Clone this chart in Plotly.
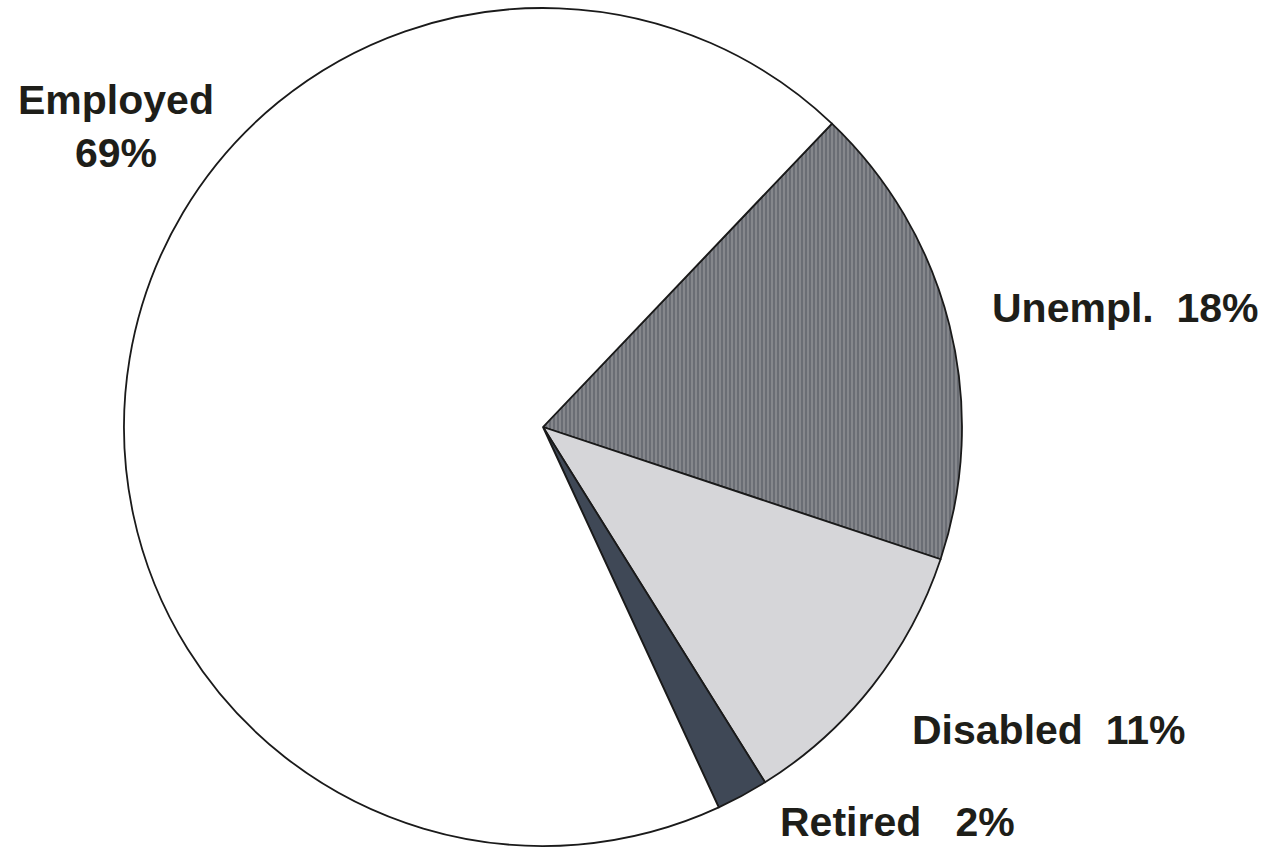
import plotly.graph_objects as go

# Employment status shares (percent), listed clockwise from the top-right boundary
categories = ["Unempl.", "Disabled", "Retired", "Employed"]
shares = [18, 11, 2, 69]
label_text = ["Unempl.&nbsp;&nbsp;18%", "Disabled&nbsp;&nbsp;11%", "Retired&nbsp;&nbsp;&nbsp;2%", "Employed<br>69%"]

fill_colors = ["#85878c", "#d6d6d9", "#3f4856", "#ffffff"]

W, H = 1271, 865
cx, cy, r = 543, 427, 419

fig = go.Figure(
    go.Pie(
        labels=categories,
        values=shares,
        sort=False,
        direction="clockwise",
        rotation=43.6,
        textinfo="none",
        hoverinfo="label+percent",
        showlegend=False,
        marker=dict(
            colors=fill_colors,
            line=dict(color="#1a1a1a", width=1.8),
            pattern=dict(
                shape=["|", "", "", ""],
                fgcolor=["#676a71", "#d6d6d9", "#3f4856", "#ffffff"],
                bgcolor=fill_colors,
                size=4,
                solidity=0.45,
            ),
        ),
        domain=dict(
            x=[(cx - r) / W, (cx + r) / W],
            y=[(H - cy - r) / H, (H - cy + r) / H],
        ),
    )
)

# Outside labels: (left/centre x in px, vertical centre y in px, anchor)
label_pos = [
    (990, 308, "left"),
    (910, 730, "left"),
    (778, 822, "left"),
    (116, 127, "center"),
]

for txt, (px, py, anchor) in zip(label_text, label_pos):
    fig.add_annotation(
        x=px / W,
        y=1 - py / H,
        xref="paper",
        yref="paper",
        text=txt,
        showarrow=False,
        xanchor=anchor,
        yanchor="middle",
        align="center",
        font=dict(family="Liberation Sans, Arial", size=41, color="#1e1e19", weight="bold"),
    )

fig.update_layout(
    width=W,
    height=H,
    margin=dict(l=0, r=0, t=0, b=0),
    paper_bgcolor="#ffffff",
    plot_bgcolor="#ffffff",
)

fig.write_html("out.html")
